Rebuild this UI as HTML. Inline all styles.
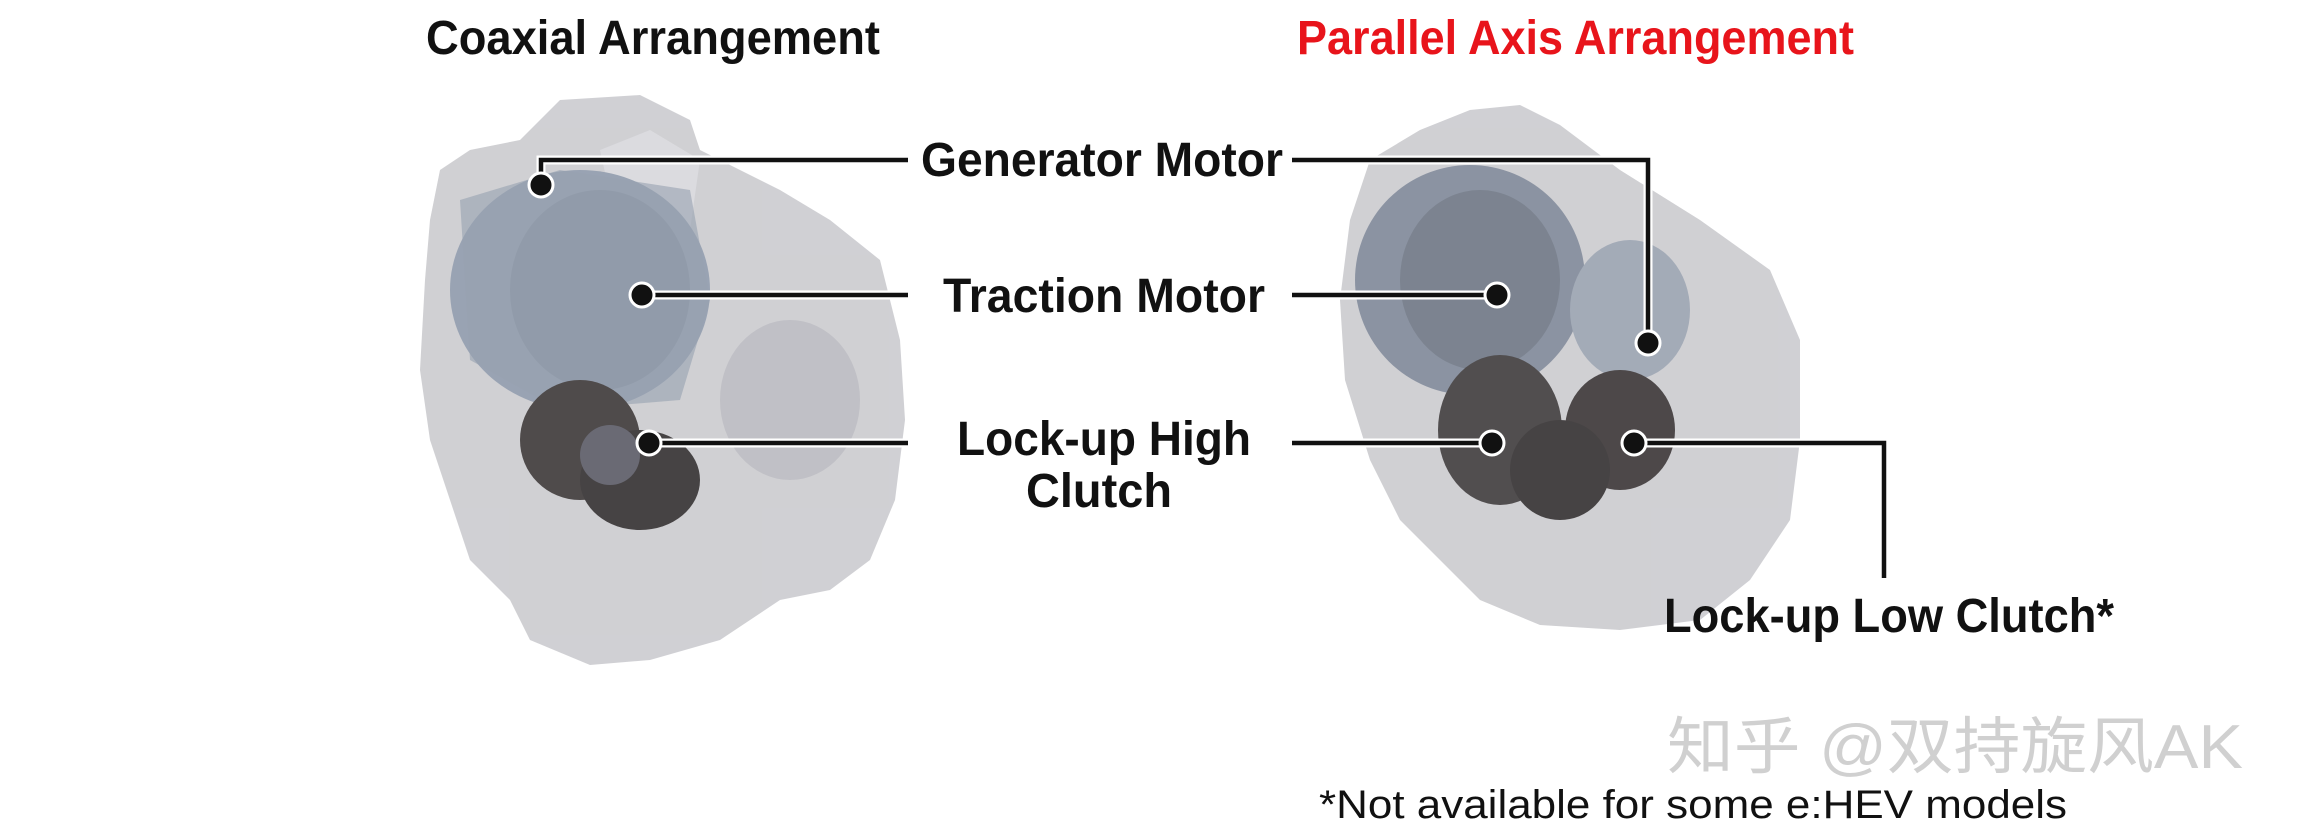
<!DOCTYPE html>
<html><head><meta charset="utf-8"><style>
html,body{margin:0;padding:0;background:#fff;}
svg{display:block;}
</style></head><body>
<svg width="2300" height="830" viewBox="0 0 2300 830" xmlns="http://www.w3.org/2000/svg">
<!-- left engine -->
<g opacity="0.9">
<path d="M440,170 L470,150 L520,140 L560,100 L640,95 L690,120 L700,150 L780,190 L830,220 L880,260 L900,340 L905,420 L895,500 L870,560 L830,590 L780,600 L720,640 L650,660 L590,665 L530,640 L510,600 L470,560 L450,500 L430,440 L420,370 L425,280 L430,220 Z" fill="#cbcbcf"/>
<path d="M600,150 L650,130 L700,160 L690,230 L620,240 Z" fill="#d8d8dc"/>
<ellipse cx="580" cy="290" rx="130" ry="120" fill="#8f9aab"/>
<ellipse cx="600" cy="290" rx="90" ry="100" fill="#7d8797"/>
<path d="M460,200 L560,170 L690,190 L710,300 L680,400 L560,410 L470,360 Z" fill="#8c97a8" opacity="0.6"/>
<ellipse cx="580" cy="440" rx="60" ry="60" fill="#3d3838"/>
<ellipse cx="640" cy="480" rx="60" ry="50" fill="#332f30"/>
<ellipse cx="610" cy="455" rx="30" ry="30" fill="#5a5a66"/>
<ellipse cx="790" cy="400" rx="70" ry="80" fill="#babac0"/>
</g>
<!-- right engine -->
<g opacity="0.9">
<path d="M1370,160 L1420,130 L1470,110 L1520,105 L1560,125 L1620,170 L1700,220 L1770,270 L1800,340 L1800,440 L1790,520 L1750,580 L1700,620 L1620,630 L1540,625 L1480,600 L1440,560 L1400,520 L1370,460 L1345,380 L1340,300 L1350,220 Z" fill="#cbcbcf"/>
<ellipse cx="1470" cy="280" rx="115" ry="115" fill="#7f8898"/>
<ellipse cx="1480" cy="280" rx="80" ry="90" fill="#6e7684"/>
<ellipse cx="1630" cy="310" rx="60" ry="70" fill="#9aa2b0"/>
<ellipse cx="1500" cy="430" rx="62" ry="75" fill="#3f3b3c"/>
<ellipse cx="1620" cy="430" rx="55" ry="60" fill="#3a3536"/>
<ellipse cx="1560" cy="470" rx="50" ry="50" fill="#332f30"/>
</g>
<!-- connectors -->
<g stroke-linejoin="miter" fill="none">
<g stroke="#fff" stroke-width="9">
<polyline points="908,160 541,160 541,185"/>
<polyline points="908,295 642,295"/>
<polyline points="908,443 649,443"/>
<polyline points="1292,160 1648,160 1648,343"/>
<polyline points="1292,295 1497,295"/>
<polyline points="1292,443 1492,443"/>
<polyline points="1634,443 1884,443 1884,578"/>
</g>
<g stroke="#111" stroke-width="4.5">
<polyline points="908,160 541,160 541,185"/>
<polyline points="908,295 642,295"/>
<polyline points="908,443 649,443"/>
<polyline points="1292,160 1648,160 1648,343"/>
<polyline points="1292,295 1497,295"/>
<polyline points="1292,443 1492,443"/>
<polyline points="1634,443 1884,443 1884,578"/>
</g>
</g>
<g fill="#111" stroke="#fff" stroke-width="3">
<circle cx="541" cy="185" r="12"/>
<circle cx="642" cy="295" r="12"/>
<circle cx="649" cy="443" r="12"/>
<circle cx="1648" cy="343" r="12"/>
<circle cx="1497" cy="295" r="12"/>
<circle cx="1492" cy="443" r="12"/>
<circle cx="1634" cy="443" r="12"/>
</g>
<!-- text -->
<g font-family="Liberation Sans, sans-serif" font-weight="bold" fill="#111" font-size="48">
<text x="426" y="54" textLength="454" lengthAdjust="spacingAndGlyphs">Coaxial Arrangement</text>
<text x="1297" y="54" textLength="557" lengthAdjust="spacingAndGlyphs" fill="#e8141b">Parallel Axis Arrangement</text>
<text x="921" y="176" textLength="362" lengthAdjust="spacingAndGlyphs">Generator Motor</text>
<text x="943" y="312" textLength="322" lengthAdjust="spacingAndGlyphs">Traction Motor</text>
<text x="957" y="455" textLength="294" lengthAdjust="spacingAndGlyphs">Lock-up High</text>
<text x="1026" y="507" textLength="146" lengthAdjust="spacingAndGlyphs">Clutch</text>
<text x="1664" y="632" textLength="450" lengthAdjust="spacingAndGlyphs">Lock-up Low Clutch*</text>
</g>
<text x="1667" y="768" font-family="Liberation Sans, 'Noto Sans CJK SC', sans-serif" font-size="62" fill="#d0d0d0" textLength="576" lengthAdjust="spacingAndGlyphs">知乎 @双持旋风AK</text>
<text x="1319" y="818" font-family="Liberation Sans, sans-serif" font-size="40" fill="#111" textLength="748" lengthAdjust="spacingAndGlyphs">*Not available for some e:HEV models</text>
</svg>
</body></html>
